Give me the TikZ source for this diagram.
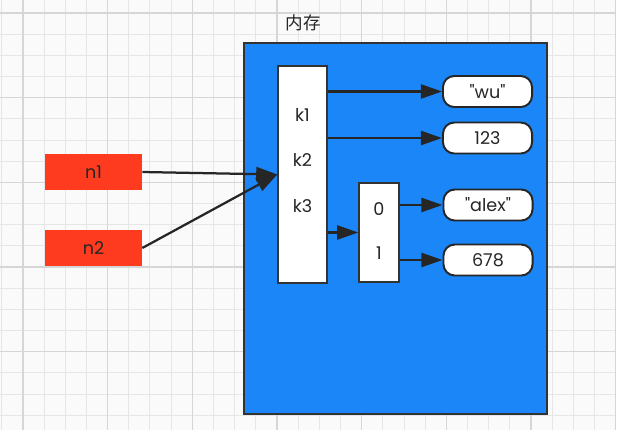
\documentclass[tikz,border=0pt]{standalone}
\usepackage{fontspec}
\newfontfamily\diagfont{Poppins}
\newfontfamily\cjkfont{Noto Sans CJK SC}
\usepackage{tikz}
\usetikzlibrary{arrows.meta,positioning,calc}
\definecolor{memblue}{HTML}{1A86F8}
\definecolor{varred}{HTML}{FF3B1F}
\definecolor{canvasbg}{HTML}{FAFAFA}
\definecolor{gridminor}{HTML}{E6E6E6}
\definecolor{gridmajor}{HTML}{D6D6D6}

\begin{document}
\begin{tikzpicture}[x=0.025cm, y=-0.025cm,
    every node/.style={font=\diagfont\fontsize{12.5}{15}\selectfont, inner sep=0pt, text=black!85},
    membox/.style={draw=black!80, line width=1.2pt, fill=memblue, minimum width=7.575cm, minimum height=9.275cm},
    keybox/.style={draw=black!80, line width=1pt, fill=white, minimum width=1.225cm, minimum height=5.425cm},
    idxbox/.style={draw=black!80, line width=1pt, fill=white, minimum width=1cm, minimum height=2.475cm},
    valbox/.style={draw=black!85, line width=1.4pt, fill=white, rounded corners=8pt, minimum width=2.225cm, minimum height=0.775cm},
    varbox/.style={fill=varred, minimum width=2.425cm, minimum height=0.9cm},
    ptr/.style={-{Triangle[length=15pt,width=10pt]}, line width=1.6pt, draw=black!85}]

    \useasboundingbox (0,0) rectangle (619,442);
    \fill[white] (0,0) rectangle (619,442);
    \fill[canvasbg] (0,0) rectangle (615,430);
    % canvas grid
    \foreach \i in {0,...,28} {
        \pgfmathsetmacro\gx{1.8+21.17*\i}
        \draw[gridminor, line width=0.7pt] (\gx,0) -- (\gx,430);
    }
    \foreach \j in {0,...,19} {
        \pgfmathsetmacro\gy{13+21.17*\j}
        \draw[gridminor, line width=0.7pt] (0,\gy) -- (615,\gy);
    }
    \foreach \i in {0,...,7} {
        \pgfmathsetmacro\gx{23+84.68*\i}
        \draw[gridmajor, line width=0.9pt] (\gx,0) -- (\gx,430);
    }
    \foreach \j in {0,...,4} {
        \pgfmathsetmacro\gy{13+84.68*\j}
        \draw[gridmajor, line width=0.9pt] (0,\gy) -- (615,\gy);
    }

    \node (memlabel) at (303,23) {\cjkfont 内存};
    \node[membox] (mem) at (395.5,228.5) {};

    \node[keybox] (dict) at (302.5,174.5) {};
    \node (k1) at (302.5,115) {k1};
    \node (k2) at (302.5,160) {k2};
    \node (k3) at (302.5,206) {k3};

    \node[idxbox] (list) at (379,232.5) {};
    \node (i0) at (379,209) {0};
    \node (i1) at (379,253) {1};

    \node[valbox] (wu) at (487.5,91.5) {"wu"};
    \node[valbox] (num) at (487.5,138) {123};
    \node[valbox] (alex) at (488,205) {"alex"};
    \node[valbox] (six) at (488,260) {678};

    \node[varbox] (n1) at (93.5,172) {n1};
    \node[varbox] (n2) at (93.5,248) {n2};

    \draw[ptr] (n1.east) -- (dict.west);
    \draw[ptr] (n2.east) -- (dict.west);
    \draw[ptr] (dict.east |- wu.west) -- (wu.west);
    \draw[ptr] (dict.east |- num.west) -- (num.west);
    \draw[ptr] (dict.east |- list.west) -- (list.west);
    \draw[ptr] (list.east |- alex.west) -- (alex.west);
    \draw[ptr] (list.east |- six.west) -- (six.west);
\end{tikzpicture}
\end{document}
